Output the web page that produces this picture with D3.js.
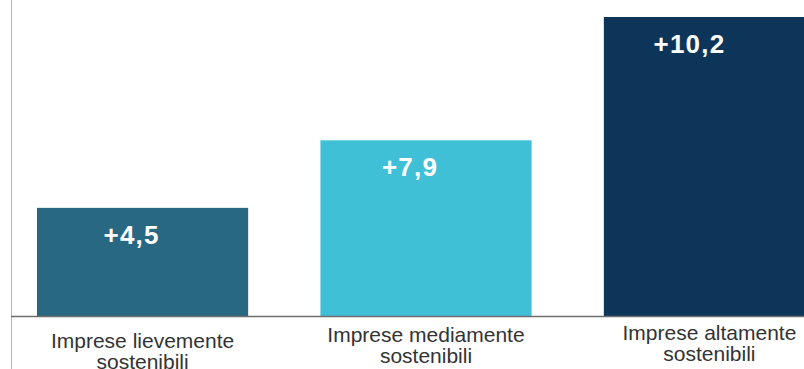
<!DOCTYPE html>
<html>
<head>
<meta charset="utf-8">
<script src="https://cdn.jsdelivr.net/npm/d3@7"></script>
<style>
  body { margin: 0; background: #fff; }
  svg { display: block; }
</style>
</head>
<body>
<svg id="chart" width="804" height="369"></svg>
<script>
// Data
const categories = ["Imprese lievemente sostenibili", "Imprese mediamente sostenibili", "Imprese altamente sostenibili"];
const categoryLines = [["Imprese lievemente", "sostenibili"], ["Imprese mediamente", "sostenibili"], ["Imprese altamente", "sostenibili"]];
const valueLabels = ["+4,5", "+7,9", "+10,2"];
// bar heights as drawn in the picture (not proportional to the labels)
const barHeights = [3.7, 6.0, 10.2];
const colors = ["#286882", "#40C0D7", "#0C3559"];

// Layout
const W = 804, H = 369;
const baseY = 316.5;
const labelBaseline = [348, 342, 340];
const valueDx = [-11, -16, -20];

const svg = d3.select("#chart");

const x = d3.scaleBand()
  .domain(categories)
  .range([37, 815])
  .paddingInner(0.255)
  .paddingOuter(0);

const y = d3.scaleLinear()
  .domain([0, 10.2])
  .range([baseY, 17]);

// bars
svg.selectAll("rect.bar")
  .data(categories)
  .enter()
  .append("rect")
  .attr("class", "bar")
  .attr("x", (d) => x(d))
  .attr("y", (d, i) => y(barHeights[i]))
  .attr("width", x.bandwidth())
  .attr("height", (d, i) => y(0) - y(barHeights[i]))
  .attr("fill", (d, i) => colors[i]);

// left vertical line
svg.append("line")
  .attr("x1", 11.5).attr("x2", 11.5)
  .attr("y1", 0).attr("y2", H)
  .attr("stroke", "#b4b4b4")
  .attr("stroke-width", 1);

// baseline
svg.append("line")
  .attr("x1", 11).attr("x2", W)
  .attr("y1", baseY).attr("y2", baseY)
  .attr("stroke", "#6e6e6e")
  .attr("stroke-width", 1.5);

// value labels
svg.selectAll("text.val")
  .data(categories)
  .enter()
  .append("text")
  .attr("class", "val")
  .attr("x", (d, i) => x(d) + x.bandwidth() / 2 + valueDx[i])
  .attr("y", (d, i) => y(barHeights[i]) + 36)
  .attr("text-anchor", "middle")
  .attr("fill", "#fff")
  .attr("font-family", "'Liberation Sans', Arial, sans-serif")
  .attr("font-weight", "bold")
  .attr("font-size", 26)
  .attr("letter-spacing", 1.2)
  .text((d, i) => valueLabels[i]);

// category labels
const cat = svg.selectAll("text.cat")
  .data(categories)
  .enter()
  .append("text")
  .attr("class", "cat")
  .attr("text-anchor", "middle")
  .attr("fill", "#333")
  .attr("font-family", "'Liberation Sans', Arial, sans-serif")
  .attr("font-size", 21);

cat.selectAll("tspan")
  .data((d, i) => categoryLines[i].map((t) => ({ t, i, d })))
  .enter()
  .append("tspan")
  .attr("x", (o) => x(o.d) + x.bandwidth() / 2)
  .attr("y", (o, j) => labelBaseline[o.i] + j * 21)
  .text((o) => o.t);
</script>
</body>
</html>
